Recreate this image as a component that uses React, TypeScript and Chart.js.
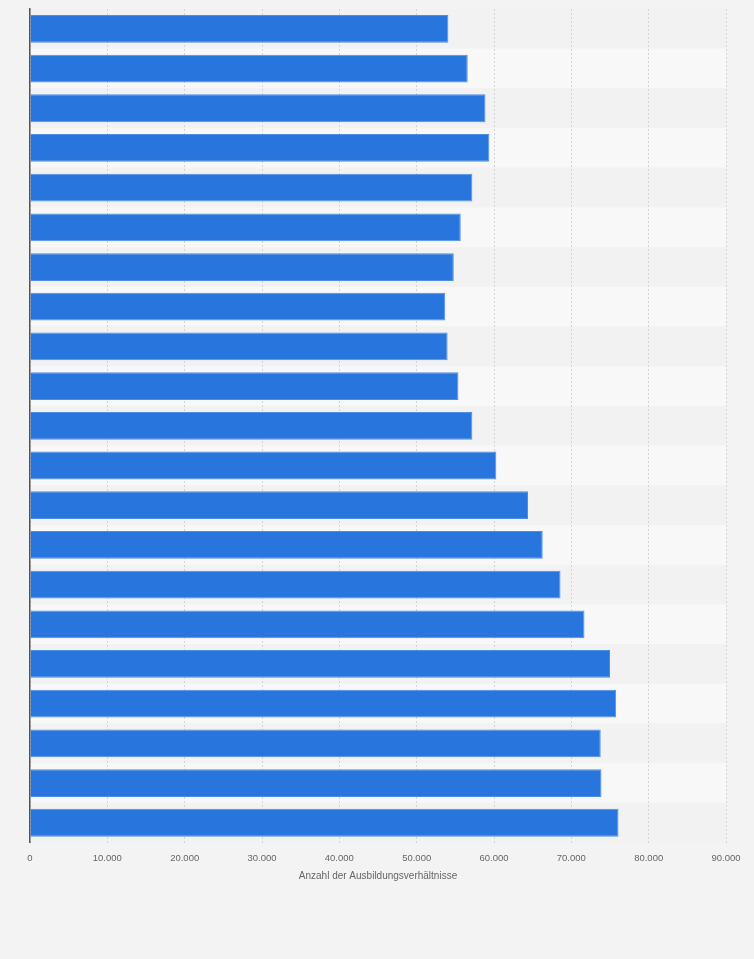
import { useEffect, useRef } from 'react';
import { Chart, registerables } from 'chart.js';

Chart.register(...registerables);

// Categories (not shown as labels in the chart)
const years = [
  '2000', '2001', '2002', '2003', '2004', '2005', '2006', '2007', '2008', '2009', '2010',
  '2011', '2012', '2013', '2014', '2015', '2016', '2017', '2018', '2019', '2020',
];

// Anzahl der Ausbildungsverhältnisse
const values = [
  54100, 56600, 58900, 59400, 57200, 55700, 54800, 53700, 54000, 55400, 57200,
  60300, 64400, 66300, 68600, 71700, 75000, 75800, 73800, 73900, 76100,
];

const xMax = 90000;
const xStep = 10000;
const axisTitle = 'Anzahl der Ausbildungsverhältnisse';

// alternating row backgrounds behind the bars
const rowBands = {
  id: 'rowBands',
  beforeDraw(chart: Chart) {
    const { ctx, chartArea, scales } = chart;
    const y = scales.y;
    const n = years.length;
    const step = (chartArea.bottom - chartArea.top) / n;
    ctx.save();
    for (let i = 0; i < n; i++) {
      const c = y.getPixelForValue(i);
      ctx.fillStyle = i % 2 === 1 ? '#f8f8f8' : '#f2f2f2';
      ctx.fillRect(chartArea.left, c - step / 2, chartArea.right - chartArea.left, step);
    }
    ctx.restore();
  },
};

const App = () => {
  const chartRef = useRef<HTMLCanvasElement>(null);
  const chartInstance = useRef<Chart | null>(null);

  useEffect(() => {
    document.body.style.margin = '0';
    if (!chartRef.current) return;
    if (chartInstance.current) chartInstance.current.destroy();

    const ctx = chartRef.current.getContext('2d');
    if (!ctx) return;

    chartInstance.current = new Chart(ctx, {
      type: 'bar',
      data: {
        labels: years,
        datasets: [
          {
            data: values,
            backgroundColor: '#2876dd',
            borderColor: '#4d8ee4',
            borderWidth: 1,
            borderSkipped: 'left',
            barPercentage: 0.7,
            categoryPercentage: 1,
          },
        ],
      },
      options: {
        indexAxis: 'y',
        animation: false,
        responsive: true,
        maintainAspectRatio: false,
        layout: {
          padding: { left: 22, right: 28, top: 9, bottom: 73 },
        },
        plugins: {
          legend: { display: false },
          tooltip: { enabled: false },
        },
        scales: {
          x: {
            min: 0,
            max: xMax,
            grid: {
              color: '#d4d4d4',
              lineWidth: 1,
              drawTicks: false,
            },
            border: { display: false, dash: [2, 2] },
            ticks: {
              stepSize: xStep,
              padding: 10,
              color: '#666666',
              font: { family: '"Liberation Sans", Arial, sans-serif', size: 9.5 },
              callback: (value) => Number(value).toLocaleString('de-DE'),
            },
            title: {
              display: true,
              text: axisTitle,
              color: '#666666',
              font: { family: '"Liberation Sans", Arial, sans-serif', size: 10 },
              padding: { top: -4, bottom: 4 },
            },
          },
          y: {
            grid: { display: false },
            border: { display: true, color: '#555555', width: 1.5 },
            ticks: { display: false },
          },
        },
      },
      plugins: [rowBands],
    });

    return () => {
      if (chartInstance.current) {
        chartInstance.current.destroy();
        chartInstance.current = null;
      }
    };
  }, []);

  return (
    <div style={{ width: 754, height: 959, background: '#f3f3f3', position: 'relative' }}>
      <canvas ref={chartRef} />
    </div>
  );
};

export default App;
